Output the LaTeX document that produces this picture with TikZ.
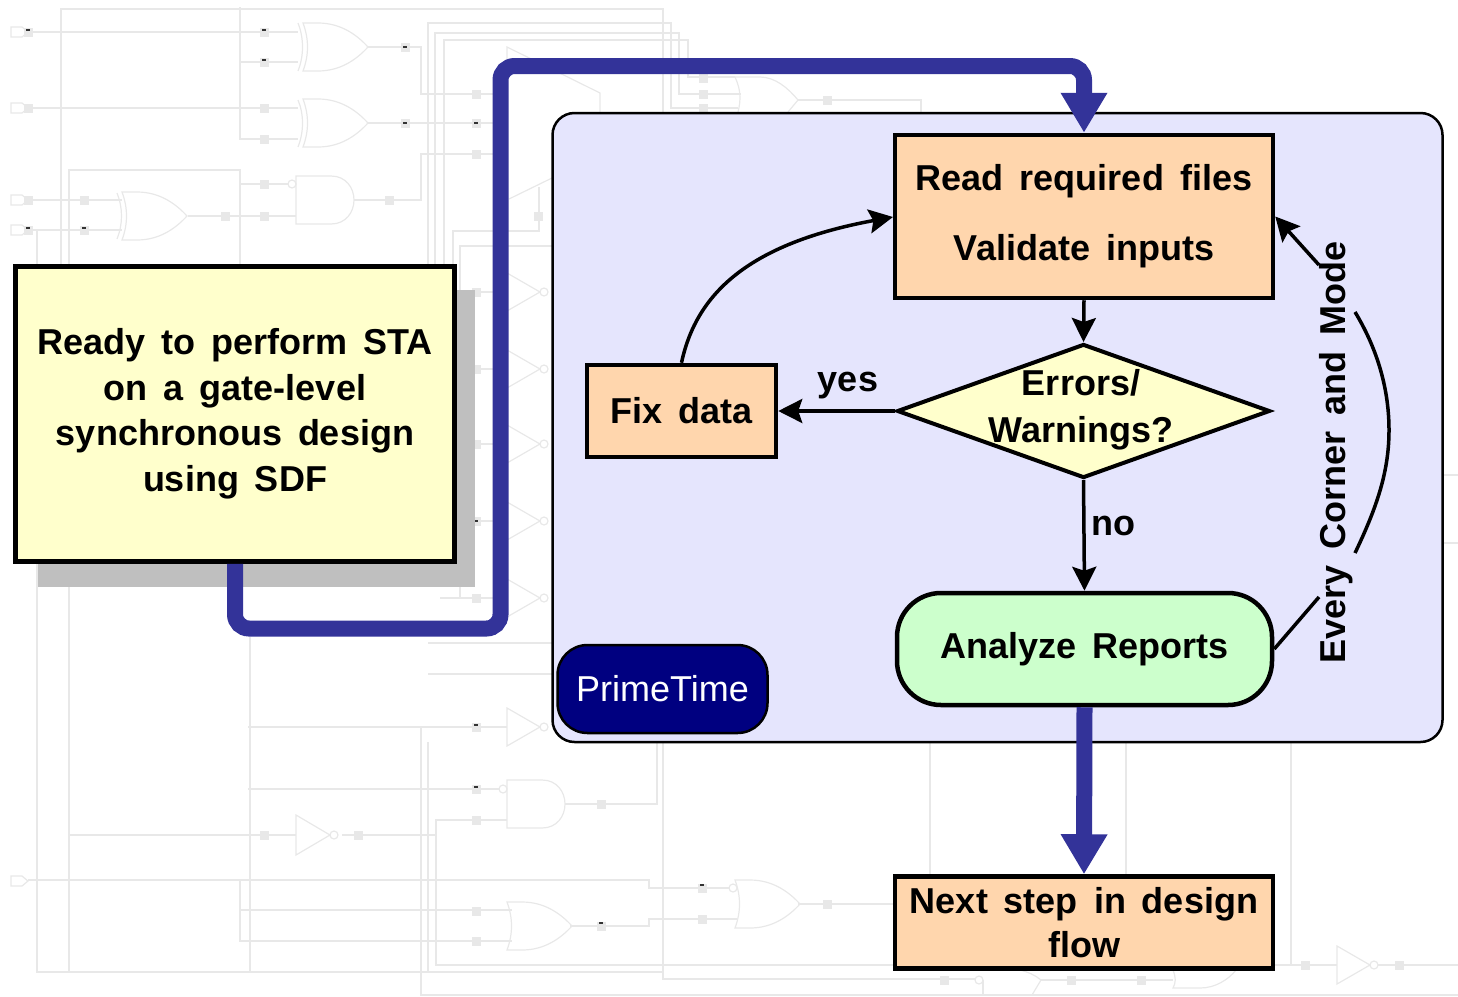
\documentclass[tikz,border=0pt]{standalone}
\usepackage{fontspec}
\setmainfont[WordSpace=1.6]{Liberation Sans}
\usetikzlibrary{arrows.meta,shapes.geometric}
\definecolor{wirecolor}{HTML}{E8E8E8}
\definecolor{pipecolor}{HTML}{333399}
\definecolor{panelcolor}{HTML}{E5E5FD}
\definecolor{boxcolor}{HTML}{FFD6AD}
\definecolor{notecolor}{HTML}{FFFFCC}
\definecolor{reportcolor}{HTML}{CCFFCC}
\definecolor{shadowcolor}{HTML}{BFBFBF}
\tikzset{
    wire/.style={draw=wirecolor,line width=1.5pt},
    gateline/.style={draw=wirecolor,line width=1.2pt},
    stepbox/.style={draw,line width=4.5pt,fill=boxcolor,align=center,font=\flowfont},
    flowtext/.style={align=center,font=\flowfont},
    flowline/.style={line width=3.5pt,-{Stealth[length=24pt,width=24pt,inset=4pt]}},
    pipeline/.style={draw=pipecolor,line width=16pt,-{Triangle[length=40pt,width=44pt]}}
}
\newcommand{\flowfont}{\fontsize{36}{45.5}\selectfont\bfseries}
% faint schematic parts, #1,#2 is the left end at mid height
\newcommand{\orgate}[2]{
\draw[gateline,shift={(#1,#2)}] (0,-24) .. controls (6,-8) and (6,8) .. (0,24) -- (15,24)
    .. controls (38,24) and (54,12) .. (65,0) .. controls (54,-12) and (38,-24) .. (15,-24) -- cycle;
}
\newcommand{\andgate}[2]{
\draw[gateline,shift={(#1,#2)}] (0,-24) -- (35,-24) .. controls (50,-24) and (58,-12) .. (58,0)
    .. controls (58,12) and (50,24) .. (35,24) -- (0,24) -- cycle;
}
\newcommand{\notgate}[2]{
\draw[gateline,shift={(#1,#2)}] (0,-19) -- (33,0) -- (0,19) -- cycle (37,0) circle (4);
}
\begin{document}
\begin{tikzpicture}[x=1pt,y=-1pt]
\useasboundingbox (0,0) rectangle (1458,996);

% schematic behind the flow
\foreach \py in {32,108,200,230,881}
{
\draw[gateline] (11,\py-5) -- (22,\py-5) -- (28,\py) -- (22,\py+5) -- (11,\py+5) -- cycle;
}
\draw[wire] (61,265) -- (61,9) -- (663,9) -- (663,112);
\draw[wire] (240,7) -- (240,139) -- (298,139);
\draw[wire] (28,32) -- (298,32);
\draw[wire] (240,62) -- (298,62);
\draw[wire] (28,108) -- (298,108);
\draw[wire] (368,47) -- (421,47) -- (421,94) -- (500,94);
\draw[wire] (368,123) -- (500,123);
\draw[wire] (500,154) -- (421,154) -- (421,200) -- (354,200);
\draw[wire] (69,265) -- (69,170) -- (240,170) -- (240,265);
\draw[wire] (240,184) -- (288,184);
\draw[wire] (28,200) -- (122,200);
\draw[wire] (28,230) -- (122,230);
\draw[wire] (188,216) -- (296,216);
\draw[wire] (37,265) -- (37,230);
\draw[wire] (428,265) -- (428,23) -- (671,23) -- (671,108) -- (738,108);
\draw[wire] (435,265) -- (435,33) -- (679,33) -- (679,94) -- (741,94);
\draw[wire] (444,265) -- (444,40) -- (688,40) -- (688,77) -- (735,77);
\draw[wire] (453,265) -- (453,231) -- (539,231) -- (539,187);
\draw[wire] (460,290) -- (460,246) -- (552,246);
\draw[gateline] (507,73) -- (507,47) -- (600,93) -- (600,112);
\draw[gateline] (509,199) -- (552,178);
\draw[gateline] (735,77) -- (760,77) .. controls (775,77) and (788,88) .. (798,100) -- (788,112);
\draw[gateline] (735,77) .. controls (741,90) and (741,100) .. (738,112);
\draw[wire] (798,100) -- (921,100) -- (921,112);
\foreach \py in {292,369,444,521,598}
{
\draw[wire] (440,\py) -- (507,\py);
\notgate{507}{\py}
}
\draw[wire] (460,587) -- (460,598);
\orgate{303}{47}
\orgate{303}{123}
\draw[gateline] (298,23) .. controls (304,38) and (304,56) .. (298,71);
\draw[gateline] (298,100) .. controls (304,114) and (304,132) .. (298,147);
\andgate{296}{200}
\draw[gateline] (292,184) circle (4);
\orgate{122}{216}
\draw[gateline] (117,193) .. controls (123,208) and (123,224) .. (117,239);

\draw[wire] (428,742) -- (428,972);
\draw[wire] (428,643) -- (552,643);
\draw[wire] (428,674) -- (552,674);
\draw[wire] (248,727) -- (507,727);
\notgate{507}{727}
\draw[wire] (248,789) -- (499,789);
\draw[gateline] (503,789) circle (4);
\andgate{507}{804}
\draw[wire] (565,804) -- (657,804) -- (657,742);
\draw[wire] (69,587) -- (69,972);
\draw[wire] (37,562) -- (37,972) -- (663,972);
\draw[wire] (250,637) -- (250,972);
\draw[wire] (69,835) -- (296,835);
\draw[gateline,shift={(296,835)}] (0,-20) -- (34,0) -- (0,20) -- cycle (38,0) circle (4);
\draw[wire] (342,835) -- (436,835);
\draw[wire] (507,820) -- (436,820) -- (436,965) -- (1305,965);
\draw[wire] (421,727) -- (421,995) -- (1458,995);
\draw[wire] (663,742) -- (663,979) -- (975,979);
\draw[wire] (28,880) -- (649,880) -- (649,888) -- (729,888);
\draw[wire] (240,880) -- (240,941) -- (512,941);
\draw[wire] (240,910) -- (512,910);
\orgate{507}{926}
\draw[wire] (570,926) -- (649,926) -- (649,919) -- (737,919);
\orgate{735}{904}
\draw[gateline] (733,888) circle (4);
\draw[wire] (798,904) -- (895,904);
\draw[wire] (930,742) -- (930,875);
\draw[wire] (1126,742) -- (1126,875);
\draw[wire] (1291,742) -- (1291,965) -- (1337,965);
\notgate{1337}{965}
\draw[wire] (1378,965) -- (1458,965);
\draw[wire] (1443,475) -- (1458,475);
\draw[wire] (1443,543) -- (1458,543);
\draw[gateline] (979,980) circle (4);
\draw[gateline] (983,980) -- (983,995);
\draw[gateline] (1020,970) .. controls (1028,972) and (1035,975) .. (1041,980) -- (1032,995);
\draw[wire] (1041,980) -- (1173,980);
\draw[gateline] (1173,970) .. controls (1176,978) and (1176,982) .. (1173,988) -- (1200,988)
    .. controls (1215,988) and (1228,980) .. (1236,970);

% the small squares on the wires
\foreach \sx/\sy in {28/32,264/32,264/62,28/108,264/108,264/139,264/184,264/216,225/216,
    84/200,84/230,28/200,28/230,389/200,405/47,405/123,476/94,476/123,476/154,538/216,
    476/292,476/369,476/444,476/521,476/598,476/727,476/789,476/820,264/835,358/835,601/804,
    476/911,476/941,601/926,703/78,703/94,703/108,827/100,702/888,702/919,827/904,944/980,
    1071/980,1141/980,1305/965,1399/965}
{
\fill[wirecolor] (\sx-4.5,\sy-4.5) rectangle (\sx+4.5,\sy+4.5);
}
\foreach \sx/\sy in {28/30,264/30,264/60,405/47,405/123,476/123,28/228,84/228,476/521,476/725,
    476/787,702/885,601/923}
{
\fill[black!80] (\sx-2,\sy-1.2) rectangle (\sx+2,\sy+1.2);
}

% note and panel
\fill[shadowcolor] (38,290) rectangle (475,587);
\node[stepbox,fill=notecolor,minimum width=439,minimum height=295] (ready) at (235,414)
    {Ready to perform STA\\on a gate-level\\synchronous design\\using SDF};
\node[draw,line width=2.5pt,fill=panelcolor,rounded corners=22pt,minimum width=890,minimum height=629] (panel) at (997.5,427.5) {};
\node[draw,line width=2.5pt,fill=black!0!blue!50!black,rounded corners=30pt,minimum width=210,minimum height=88,
    text=white,font=\fontsize{36}{36}\selectfont] (tool) at (662.5,689) {PrimeTime};

% flow
\node[stepbox,minimum width=378,minimum height=163,font=\fontsize{36}{70}\selectfont\bfseries] (read) at (1084,216.5)
    {Read required files\\Validate inputs};
\node[stepbox,minimum width=189,minimum height=92] (fix) at (681.5,411) {Fix data};
\node[draw,diamond,line width=4pt,fill=notecolor,inner sep=0pt,aspect=2.78,minimum width=373,minimum height=134] (check) at (1083.5,411) {};
\node[flowtext,font=\fontsize{36}{47}\selectfont\bfseries] (checktext) at (1081,410) {Errors/\\Warnings?};
\node[draw,line width=4.5pt,fill=reportcolor,rounded corners=44pt,flowtext,minimum width=375,minimum height=112] (report) at (1084.5,649) {Analyze Reports};
\node[stepbox,minimum width=378,minimum height=92,font=\fontsize{36}{44}\selectfont\bfseries] (next) at (1084,922.5)
    {Next step in design\\flow};
\node[flowtext,rotate=90] (every) at (1336,452.5) {Every Corner and Mode};
\node[flowtext] (yes) at (848,386) {yes};
\node[flowtext] (no) at (1113,526) {no};

\coordinate (lowturn) at (500.5,628.5);
\coordinate (highturn) at (500.5,66);
\draw[pipeline,rounded corners=14pt] (ready.south) |- (lowturn) -- (highturn) -| (read.north);
\draw[pipeline] (report.south) -- (next.north);

\draw[flowline] (read.south) -- (check.north);
\draw[flowline] (check.west) -- (fix.east);
\draw[flowline] (check.south) -- (report.north);
\draw[flowline] (fix.north) .. controls (695,300) and (740,245) .. (893,217);

\coordinate (loopa) at (1319,597);
\coordinate (loopb) at (1355,553);
\coordinate (loopc) at (1355,312);
\coordinate (loopd) at (1319,265);
\draw[line width=3.5pt] (report.east) -- (loopa);
\draw[line width=3.5pt] (loopb) .. controls (1378,505) and (1389,470) .. (1389,430) .. controls (1389,385) and (1375,345) .. (loopc);
\draw[flowline] (loopd) -- (read.east);
\end{tikzpicture}
\end{document}
